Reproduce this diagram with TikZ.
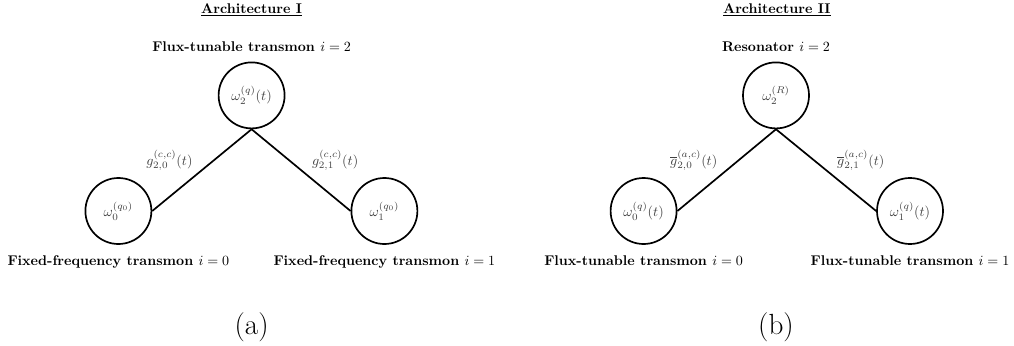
\documentclass[tikz,border=0pt]{standalone}
\usepackage{amsmath}
\usepackage{tikz}
\usetikzlibrary{positioning}

\begin{document}
\begin{tikzpicture}[
  qubit/.style={circle,draw=black,line width=1.2pt,fill=white,minimum size=1.65cm,inner sep=0pt,text=black!75},
  coupling/.style={line width=1.2pt},
  clabel/.style={text=black!75,inner sep=1pt,yshift=-0.07cm},
  qname/.style={font=\bfseries}
]
\useasboundingbox (0,0) rectangle (25.35,8.625);

% (a) Architecture I
\node (titlea) at (6.29,8.38) {\underline{\textbf{Architecture I}}};
\node[qubit] (q2a) at (6.29,6.24) {$\omega_2^{(q)}(t)$};
\node[qubit] (q0a) at (2.96,3.35) {$\omega_0^{(q_0)}$};
\node[qubit] (q1a) at (9.61,3.35) {$\omega_1^{(q_0)}$};
\node[qname,above=0.12cm of q2a] (n2a) {Flux-tunable transmon $i=2$};
\node[qname,below=0.15cm of q0a] (n0a) {Fixed-frequency transmon $i=0$};
\node[qname,below=0.15cm of q1a] (n1a) {Fixed-frequency transmon $i=1$};
\draw[coupling] (q2a.south) -- (q0a.east) node[clabel,midway,above left,xshift=-0.18cm] {$g_{2,0}^{(c,c)}(t)$};
\draw[coupling] (q2a.south) -- (q1a.west) node[clabel,midway,above right,xshift=0.22cm] {$g_{2,1}^{(c,c)}(t)$};
\node (capa) at (6.29,0.45) {\huge (a)};

% (b) Architecture II
\node (titleb) at (19.42,8.38) {\underline{\textbf{Architecture II}}};
\node[qubit] (q2b) at (19.4,6.24) {$\omega_2^{(R)}$};
\node[qubit] (q0b) at (16.09,3.35) {$\omega_0^{(q)}(t)$};
\node[qubit] (q1b) at (22.75,3.35) {$\omega_1^{(q)}(t)$};
\node[qname,above=0.12cm of q2b] (n2b) {Resonator $i=2$};
\node[qname,below=0.15cm of q0b] (n0b) {Flux-tunable transmon $i=0$};
\node[qname,below=0.15cm of q1b] (n1b) {Flux-tunable transmon $i=1$};
\draw[coupling] (q2b.south) -- (q0b.east) node[clabel,midway,above left,xshift=-0.18cm] {$\overline{g}_{2,0}^{(a,c)}(t)$};
\draw[coupling] (q2b.south) -- (q1b.west) node[clabel,midway,above right,xshift=0.22cm] {$\overline{g}_{2,1}^{(a,c)}(t)$};
\node (capb) at (19.4,0.45) {\huge (b)};
\end{tikzpicture}
\end{document}
